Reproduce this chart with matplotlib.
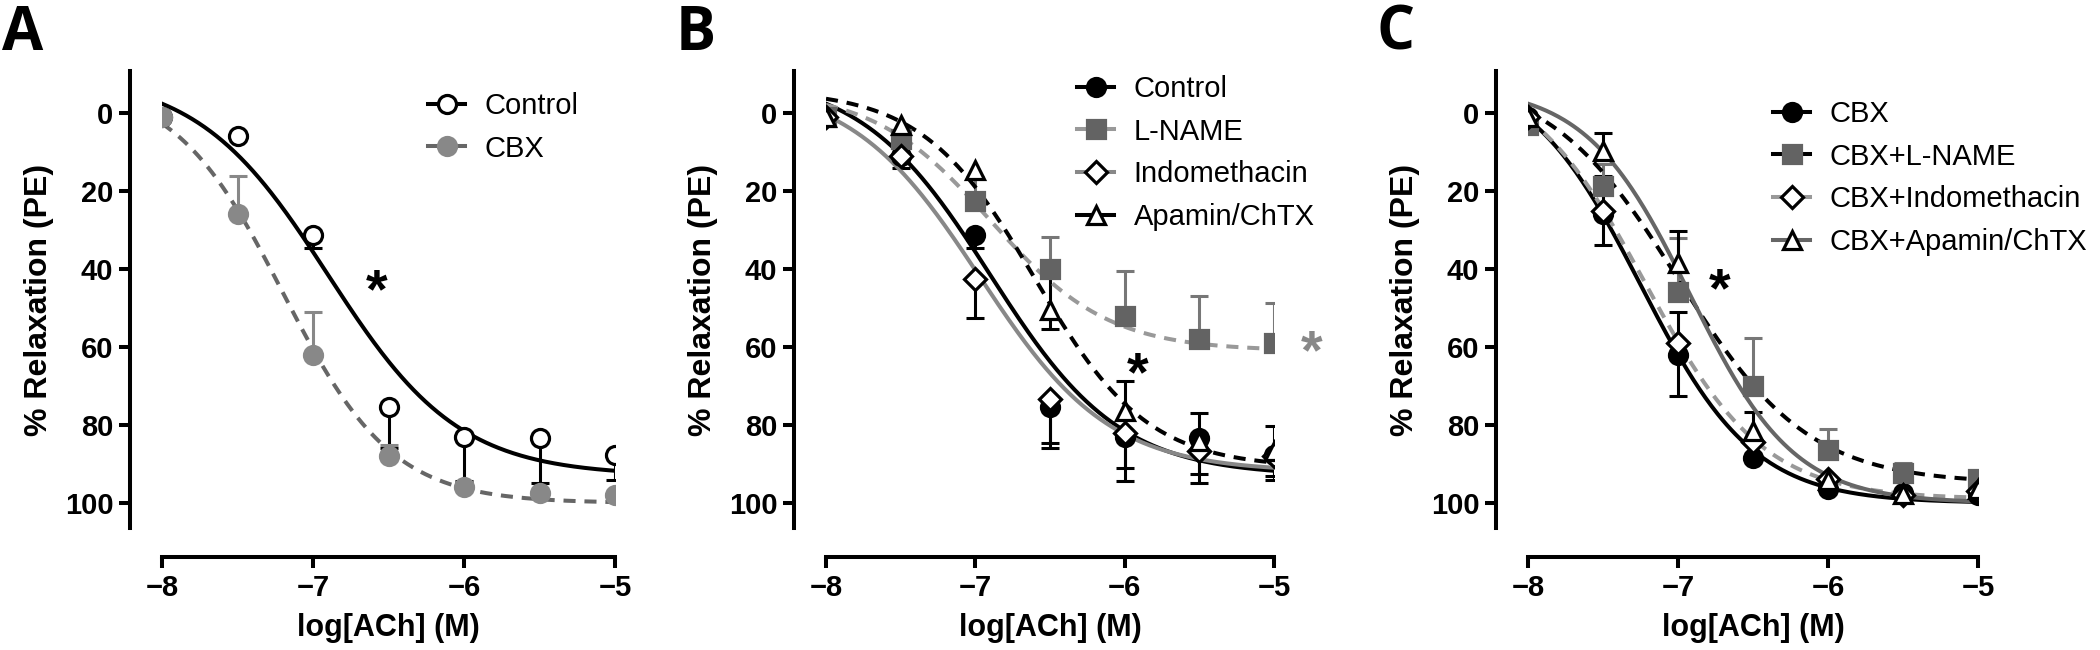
import numpy as np
import matplotlib
matplotlib.use('Agg')
import matplotlib.pyplot as plt
from matplotlib.lines import Line2D

plt.rcParams['font.family'] = ['Liberation Sans', 'DejaVu Sans']

log_ach = [-8, -7.5, -7, -6.5, -6, -5.5, -5]
xticks = [-8, -7, -6, -5]
yticks = [0, 20, 40, 60, 80, 100]

# panel A
a_control = [1, 5.9, 31.2, 75.4, 83, 83.2, 87.6]
a_control_dn = [0, 0, 3.5, 10.6, 11.3, 11.6, 6.4]
a_cbx = [1, 26, 62, 88, 96, 97.4, 98]
a_cbx_up = [0, 10, 11, 3, 0, 0, 0]
# fitted curves: top, bottom, logEC50, hill slope
a_control_fit = [-10, 93, -6.9, 1.0]
a_cbx_fit = [-8, 100, -7.2, 1.2]

# panel B
b_control = [1, 11, 31.2, 75.4, 83, 83.2, 87.6]
b_control_dn = [0, 0, 3.5, 10.6, 11.3, 11.6, 6.4]
b_lname = [1, 6.7, 22.5, 40, 52, 58, 59]
b_lname_up = [0, 0, 6, 8.3, 11.5, 11, 10.2]
b_indo = [1, 11, 42.6, 73.3, 82, 86.6, 88]
b_indo_dn = [0, 3, 10, 11.2, 9, 6, 5]
b_apamin = [1, 3, 14.6, 50.6, 76.5, 84.2, 86.6]
b_apamin_up = [0, 0, 0, 10.1, 7.9, 7.4, 6.4]
b_apamin_dn = [0, 0, 0, 4.7, 0, 0, 0]
b_control_fit = [-10, 93, -6.9, 1.0]
b_lname_fit = [-6, 61, -6.9, 1.1]
b_indo_fit = [-8, 92, -6.97, 1.0]
b_apamin_fit = [-6, 91, -6.6, 1.15]

# panel C
c_cbx = [1, 26, 62, 88.5, 96.5, 97.4, 98]
c_cbx_up = [0, 10, 11, 0, 0, 0, 0]
c_lname = [3, 18.8, 46, 70, 86.4, 92.2, 93.8]
c_lname_up = [0, 5.8, 14, 12.3, 5.4, 2.4, 2.1]
c_indo = [1, 25.2, 59, 84.4, 93.8, 97.9, 97]
c_indo_dn = [0, 8.5, 13.5, 0, 0, 0, 0]
c_apamin = [1, 9.8, 38.5, 81.6, 94, 97.6, 96.5]
c_apamin_up = [0, 4.8, 8.3, 5, 0, 0, 0]
c_cbx_fit = [-12, 100, -7.25, 1.15]
c_lname_fit = [-10, 95, -7.0, 1.0]
c_indo_fit = [-12, 99, -7.22, 1.1]
c_apamin_fit = [-7, 100, -6.92, 1.25]

zero = [0] * len(log_ach)

LW = 2.9
MS = 13


def hill(x, p):
    top, bottom, ec50, slope = p
    return bottom + (top - bottom) / (1 + 10 ** ((x - ec50) * slope))


def err_bars(ax, y, up, dn, color):
    # up = toward smaller values (drawn upward, y axis is reversed)
    for sign, ext in ((-1, up), (1, dn)):
        xs = [x for x, e in zip(log_ach, ext) if e > 0]
        y0 = [v for v, e in zip(y, ext) if e > 0]
        y1 = [v + sign * e for v, e in zip(y, ext) if e > 0]
        if not xs:
            continue
        ax.vlines(xs, y0, y1, colors=color, lw=2.2, zorder=2)
        ax.plot(xs, y1, ls='none', marker='_', ms=13, mew=2.2, color=color, zorder=2)


def series(ax, y, up, dn, fit, line_c, ls, marker, mfc, mec, err_c, ms=MS):
    xx = np.linspace(-8, -5, 300)
    ax.plot(xx, hill(xx, fit), color=line_c, ls=ls, lw=LW, zorder=3,
            dashes=(3, 2.2) if ls == '--' else (None, None))
    err_bars(ax, y, up, dn, err_c)
    ax.plot(log_ach, y, ls='none', marker=marker, ms=ms, mfc=mfc, mec=mec,
            mew=2.3, zorder=4)
    return Line2D([], [], color=line_c, lw=LW, marker=marker, ms=ms,
                  mfc=mfc, mec=mec, mew=2.3)


def style(ax):
    ax.set_xlim(-8, -5)
    ax.set_ylim(106.4, -10.8)
    for s in ['top', 'right']:
        ax.spines[s].set_visible(False)
    ax.spines['left'].set_position(('outward', 23))
    ax.spines['bottom'].set_position(('outward', 21))
    for s in ['left', 'bottom']:
        ax.spines[s].set_linewidth(2.9)
    ax.set_xticks(xticks)
    ax.set_yticks(yticks)
    ax.tick_params(width=2.9, length=8, labelsize=21, pad=4)
    for lab in ax.get_xticklabels() + ax.get_yticklabels():
        lab.set_fontweight('bold')
    ax.set_xlabel('log[ACh] (M)', fontsize=22, fontweight='bold', labelpad=8)
    ax.set_ylabel('% Relaxation (PE)', fontsize=23, fontweight='bold', labelpad=8)


def legend(ax, handles, labels, x, y):
    ax.legend(handles, labels, loc='upper left', bbox_to_anchor=(x, y),
              bbox_transform=fig.transFigure, frameon=False, fontsize=21,
              handlelength=1.27, handletextpad=0.68, labelspacing=0.5,
              borderpad=0, borderaxespad=0)


def star(ax, x, y, color='black'):
    # va='center' puts the glyph ~3 units too high, shift it down
    ax.text(x, y + 3.1, '*', fontsize=40, fontweight='bold', color=color,
            ha='center', va='center', clip_on=False)


fig = plt.figure(figsize=(21, 6.5), dpi=100)
bottom, height = 1 - 528 / 650, 457 / 650
axA = fig.add_axes([162 / 2100, bottom, 453 / 2100, height])
axB = fig.add_axes([826 / 2100, bottom, 448 / 2100, height])
axC = fig.add_axes([1528 / 2100, bottom, 450 / 2100, height])

# A
h1 = series(axA, a_control, zero, a_control_dn, a_control_fit, 'black', '-',
            'o', 'white', 'black', 'black')
h2 = series(axA, a_cbx, a_cbx_up, zero, a_cbx_fit, '#666666', '--',
            'o', '#888888', '#888888', '#888888')
style(axA)
legend(axA, [h1, h2], ['Control', 'CBX'], 428 / 2100, 1 - 92 / 650)
star(axA, -6.58, 43)

# B
h1 = series(axB, b_control, zero, b_control_dn, b_control_fit, 'black', '-',
            'o', 'black', 'black', 'black')
h2 = series(axB, b_lname, b_lname_up, zero, b_lname_fit, '#999999', '--',
            's', '#636363', '#636363', '#777777', ms=12.5)
h3 = series(axB, b_indo, zero, b_indo_dn, b_indo_fit, '#888888', '-',
            'D', 'white', 'black', 'black', ms=11.5)
h4 = series(axB, b_apamin, b_apamin_up, b_apamin_dn, b_apamin_fit, 'black', '--',
            '^', 'white', 'black', 'black')
style(axB)
legend(axB, [h1, h2, h3, h4], ['Control', 'L-NAME', 'Indomethacin', 'Apamin/ChTX'],
       1077 / 2100, 1 - 75 / 650)
star(axB, -5.91, 64.3)
star(axB, -4.75, 58.7, '#888888')

# C
h1 = series(axC, c_cbx, c_cbx_up, zero, c_cbx_fit, 'black', '-',
            'o', 'black', 'black', 'black')
h2 = series(axC, c_lname, c_lname_up, zero, c_lname_fit, 'black', '--',
            's', '#636363', '#636363', '#777777', ms=12.5)
h3 = series(axC, c_indo, zero, c_indo_dn, c_indo_fit, '#999999', '--',
            'D', 'white', 'black', 'black', ms=11.5)
h4 = series(axC, c_apamin, c_apamin_up, zero, c_apamin_fit, '#666666', '-',
            '^', 'white', 'black', 'black')
style(axC)
legend(axC, [h1, h2, h3, h4],
       ['CBX', 'CBX+L-NAME', 'CBX+Indomethacin', 'CBX+Apamin/ChTX'],
       1773 / 2100, 1 - 100 / 650)
star(axC, -6.72, 42.8)

for letter, xp in (('A', 2), ('B', 676), ('C', 1376)):
    fig.text(xp / 2100, 1 - 50 / 650, letter, fontsize=43, fontweight='bold',
             family='Open Sans', va='baseline', ha='left')

fig.savefig('out.png', dpi=100)
